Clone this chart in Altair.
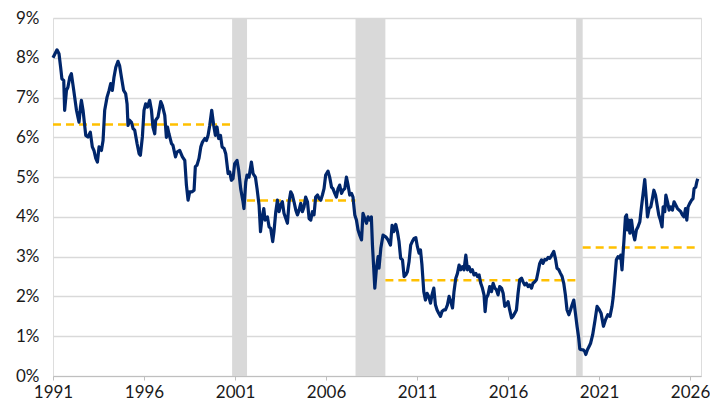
import altair as alt
import pandas as pd

# ---- series (decimal year, yield %) ----
years = [
    1991.00, 1991.22, 1991.33, 1991.42, 1991.49, 1991.59, 1991.64, 1991.74, 1991.82, 1991.92,
    1992.01, 1992.14, 1992.29, 1992.37, 1992.43, 1992.51, 1992.56, 1992.65, 1992.80, 1992.92,
    1993.05, 1993.16, 1993.25, 1993.35, 1993.44, 1993.53, 1993.66, 1993.75, 1993.84, 1993.97,
    1994.08, 1994.17, 1994.26, 1994.35, 1994.45, 1994.57, 1994.66, 1994.76, 1994.88, 1994.99,
    1995.07, 1995.12, 1995.21, 1995.31, 1995.40, 1995.49, 1995.62, 1995.73, 1995.80, 1995.91,
    1996.00, 1996.09, 1996.19, 1996.31, 1996.41, 1996.49, 1996.59, 1996.64, 1996.77, 1996.92,
    1997.01, 1997.14, 1997.23, 1997.29, 1997.37, 1997.51, 1997.59, 1997.73, 1997.81, 1997.96,
    1998.11, 1998.24, 1998.33, 1998.42, 1998.51, 1998.64, 1998.75, 1998.82, 1998.91, 1999.02,
    1999.12, 1999.21, 1999.34, 1999.43, 1999.52, 1999.61, 1999.72, 1999.83, 1999.92, 2000.01,
    2000.10, 2000.20, 2000.29, 2000.40, 2000.49, 2000.62, 2000.71, 2000.80, 2000.89, 2000.98,
    2001.11, 2001.20, 2001.31, 2001.44, 2001.49, 2001.59, 2001.66, 2001.77, 2001.90, 2001.99,
    2002.12, 2002.21, 2002.32, 2002.40, 2002.48, 2002.58, 2002.65, 2002.78, 2002.87, 2002.96,
    2003.07, 2003.14, 2003.24, 2003.33, 2003.42, 2003.51, 2003.60, 2003.69, 2003.79, 2003.88,
    2003.97, 2004.06, 2004.15, 2004.24, 2004.34, 2004.43, 2004.52, 2004.61, 2004.70, 2004.79,
    2004.88, 2004.98, 2005.07, 2005.16, 2005.25, 2005.34, 2005.43, 2005.53, 2005.62, 2005.71,
    2005.80, 2005.89, 2005.98, 2006.11, 2006.20, 2006.30, 2006.38, 2006.48, 2006.57, 2006.66,
    2006.75, 2006.85, 2006.93, 2007.03, 2007.12, 2007.21, 2007.30, 2007.40, 2007.48, 2007.58,
    2007.67, 2007.76, 2007.85, 2007.95, 2008.03, 2008.13, 2008.22, 2008.31, 2008.40, 2008.49,
    2008.55, 2008.62, 2008.68, 2008.77, 2008.86, 2008.91, 2009.01, 2009.13, 2009.28, 2009.41,
    2009.54, 2009.63, 2009.72, 2009.83, 2009.92, 2010.01, 2010.10, 2010.20, 2010.29, 2010.38,
    2010.47, 2010.56, 2010.65, 2010.75, 2010.84, 2010.93, 2011.02, 2011.11, 2011.19, 2011.27,
    2011.37, 2011.46, 2011.55, 2011.64, 2011.74, 2011.82, 2011.92, 2012.01, 2012.10, 2012.19,
    2012.29, 2012.37, 2012.47, 2012.56, 2012.67, 2012.76, 2012.85, 2012.95, 2013.03, 2013.13,
    2013.22, 2013.31, 2013.40, 2013.49, 2013.58, 2013.68, 2013.77, 2013.86, 2013.95, 2014.04,
    2014.13, 2014.23, 2014.32, 2014.41, 2014.50, 2014.59, 2014.68, 2014.74, 2014.81, 2014.90,
    2014.99, 2015.09, 2015.18, 2015.27, 2015.36, 2015.45, 2015.54, 2015.64, 2015.73, 2015.82,
    2015.91, 2016.00, 2016.09, 2016.19, 2016.27, 2016.37, 2016.46, 2016.55, 2016.64, 2016.74,
    2016.82, 2016.92, 2017.01, 2017.10, 2017.19, 2017.29, 2017.37, 2017.47, 2017.56, 2017.65,
    2017.74, 2017.84, 2017.92, 2018.02, 2018.11, 2018.20, 2018.29, 2018.38, 2018.51, 2018.60,
    2018.69, 2018.79, 2018.88, 2018.97, 2019.06, 2019.15, 2019.24, 2019.34, 2019.43, 2019.52,
    2019.61, 2019.70, 2019.79, 2019.88, 2019.94, 2020.03, 2020.12, 2020.21, 2020.27, 2020.36,
    2020.45, 2020.54, 2020.65, 2020.78, 2020.89, 2021.02, 2021.11, 2021.24, 2021.35, 2021.48,
    2021.60, 2021.71, 2021.77, 2021.86, 2021.95, 2022.04, 2022.14, 2022.19, 2022.26, 2022.32,
    2022.37, 2022.45, 2022.51, 2022.56, 2022.63, 2022.69, 2022.78, 2022.87, 2022.96, 2023.05,
    2023.14, 2023.24, 2023.33, 2023.42, 2023.51, 2023.60, 2023.66, 2023.75, 2023.84, 2023.93,
    2024.01, 2024.10, 2024.19, 2024.28, 2024.37, 2024.46, 2024.52, 2024.61, 2024.67, 2024.76,
    2024.85, 2024.94, 2025.03, 2025.12, 2025.21, 2025.31, 2025.40, 2025.49, 2025.58, 2025.67,
    2025.75, 2025.82, 2025.89, 2025.98, 2026.08, 2026.16, 2026.22, 2026.31, 2026.37, 2026.42,
]
yields = [
    8.00, 8.20, 8.10, 7.76, 7.47, 7.43, 6.68, 7.18, 7.26, 7.51,
    7.60, 7.18, 6.68, 6.51, 6.38, 6.76, 6.93, 6.68, 6.05, 6.01,
    6.13, 5.76, 5.67, 5.47, 5.38, 5.76, 5.67, 5.92, 6.68, 7.01,
    7.18, 7.35, 7.18, 7.51, 7.76, 7.91, 7.80, 7.51, 7.18, 7.10,
    6.84, 6.30, 6.43, 6.38, 6.22, 6.18, 5.84, 5.59, 5.55, 6.01,
    6.68, 6.84, 6.76, 6.93, 6.68, 6.26, 6.09, 6.43, 6.51, 6.90,
    6.80, 6.55, 6.00, 6.26, 6.09, 5.84, 5.80, 5.51, 5.63, 5.67,
    5.51, 5.42, 4.80, 4.42, 4.63, 4.63, 4.67, 5.26, 5.30, 5.47,
    5.76, 5.88, 5.97, 5.92, 6.05, 6.30, 6.68, 6.30, 6.05, 6.26,
    5.97, 6.05, 5.76, 5.72, 5.59, 5.09, 5.13, 4.92, 4.96, 5.34,
    5.42, 5.17, 4.71, 4.38, 4.21, 4.88, 5.05, 5.00, 5.38, 5.09,
    5.00, 4.71, 4.30, 3.63, 3.96, 4.21, 3.92, 4.00, 3.75, 3.71,
    3.38, 3.63, 4.13, 4.42, 4.13, 4.30, 4.38, 4.09, 3.96, 3.84,
    4.38, 4.63, 4.55, 4.38, 4.17, 4.05, 4.17, 4.34, 4.13, 4.25,
    4.50, 4.38, 3.96, 3.92, 4.13, 4.05, 4.50, 4.55, 4.46, 4.42,
    4.55, 4.71, 5.05, 5.15, 5.00, 4.75, 4.71, 4.59, 4.50, 4.71,
    4.80, 4.59, 4.67, 4.71, 5.00, 4.80, 4.55, 4.59, 4.50, 4.05,
    3.92, 3.67, 3.54, 3.42, 4.09, 3.96, 3.84, 4.00, 3.92, 4.00,
    3.29, 2.71, 2.21, 2.71, 3.00, 2.71, 3.21, 3.54, 3.50, 3.42,
    3.29, 3.79, 3.63, 3.81, 3.63, 3.38, 2.96, 2.92, 2.50, 2.54,
    2.62, 2.87, 3.29, 3.39, 3.46, 3.48, 3.25, 3.09, 3.17, 2.79,
    2.12, 1.91, 2.08, 2.00, 1.83, 2.04, 2.21, 1.79, 1.66, 1.58,
    1.50, 1.62, 1.66, 1.66, 1.79, 2.00, 1.87, 1.71, 2.12, 2.46,
    2.58, 2.79, 2.67, 2.75, 2.67, 3.04, 2.67, 2.75, 2.62, 2.67,
    2.54, 2.58, 2.50, 2.54, 2.33, 2.21, 2.04, 1.62, 1.96, 2.04,
    2.25, 2.12, 2.33, 2.21, 2.17, 2.04, 2.25, 2.21, 2.08, 1.75,
    1.79, 1.87, 1.66, 1.46, 1.50, 1.58, 1.66, 2.08, 2.42, 2.46,
    2.37, 2.29, 2.33, 2.25, 2.29, 2.21, 2.33, 2.37, 2.42, 2.62,
    2.83, 2.92, 2.83, 2.93, 2.92, 2.98, 2.96, 3.02, 3.13, 2.96,
    2.71, 2.67, 2.58, 2.50, 2.33, 2.04, 1.66, 1.54, 1.66, 1.79,
    1.91, 1.58, 1.25, 0.96, 0.68, 0.66, 0.66, 0.62, 0.54, 0.66,
    0.74, 0.83, 1.04, 1.41, 1.75, 1.66, 1.58, 1.25, 1.41, 1.54,
    1.50, 1.75, 1.96, 2.42, 2.92, 3.00, 2.96, 3.04, 2.67, 3.09,
    3.42, 4.00, 4.05, 3.67, 3.92, 3.59, 3.92, 3.59, 3.42, 3.67,
    3.75, 3.88, 4.25, 4.59, 4.94, 4.42, 4.00, 4.21, 4.25, 4.46,
    4.67, 4.55, 4.30, 4.05, 3.92, 3.75, 4.25, 4.13, 4.55, 4.38,
    4.17, 4.25, 4.17, 4.38, 4.30, 4.21, 4.17, 4.13, 4.05, 4.00,
    4.21, 3.92, 4.25, 4.34, 4.42, 4.46, 4.71, 4.75, 4.88, 4.96,
]

# ---- recession shading (axis years) ----
rec_start = [2000.84, 2007.62, 2019.74]
rec_end = [2001.66, 2009.26, 2020.10]

# ---- period averages (dashed) ----
avg_start = [1991.00, 2001.66, 2009.26, 2020.10]
avg_end = [2000.84, 2007.62, 2019.74, 2026.38]
avg_value = [6.32, 4.41, 2.41, 3.23]

x_ticks = [1991, 1996, 2001, 2006, 2011, 2016, 2021, 2026]
y_ticks = [0, 1, 2, 3, 4, 5, 6, 7, 8, 9]

series = pd.DataFrame({"year": years, "yield": yields})
rec = pd.DataFrame({"start": rec_start, "end": rec_end})
avg = pd.DataFrame({"start": avg_start, "end": avg_end, "value": avg_value})

FONT = "Lato"
xscale = alt.Scale(domain=[1991, 2026.6], nice=False, zero=False)
yscale = alt.Scale(domain=[0, 9], nice=False, zero=True)

xaxis = alt.Axis(values=x_ticks, format="d", grid=False, title=None,
                 labelFont=FONT, labelFontSize=17, labelColor="#1a1a1a",
                 domainColor="#bfbfbf", domainWidth=1.2, tickColor="#bfbfbf",
                 tickSize=4, tickWidth=1, labelPadding=4, labelFlush=False,
                 labelOverlap=False)
yaxis = alt.Axis(values=y_ticks, tickCount=10, labelExpr="datum.value + '%'",
                 title=None, labelFont=FONT, labelFontSize=17,
                 labelColor="#1a1a1a", domain=False, ticks=False,
                 labelPadding=14, grid=True, gridColor="#d9d9d9",
                 gridWidth=1.5, labelOverlap=False, labelBound=False)

bars = alt.Chart(rec).mark_rect(color="#d9d9d9").encode(
    x=alt.X("start:Q", scale=xscale, axis=xaxis),
    x2="end:Q",
    y=alt.Y(datum=9, type="quantitative", scale=yscale, axis=yaxis),
    y2=alt.datum(0),
)

dashed = alt.Chart(avg).mark_rule(color="#ffc000", strokeWidth=2.5,
                                   strokeDash=[8, 5]).encode(
    x=alt.X("start:Q", scale=xscale, axis=xaxis),
    x2="end:Q",
    y=alt.Y("value:Q", scale=yscale, axis=yaxis),
)

line = alt.Chart(series).mark_line(color="#00266b", strokeWidth=3.2,
                                   strokeJoin="round").encode(
    x=alt.X("year:Q", scale=xscale, axis=xaxis),
    y=alt.Y("yield:Q", scale=yscale, axis=yaxis),
)

chart = alt.layer(bars, dashed, line).properties(
    width=648, height=358,
    autosize=alt.AutoSizeParams(type="none"),
    padding={"left": 45, "top": 10, "right": 9, "bottom": 33},
).configure_view(stroke=None).configure(background="white")

chart.save("out.html", embed_options={"renderer": "svg", "actions": False})
